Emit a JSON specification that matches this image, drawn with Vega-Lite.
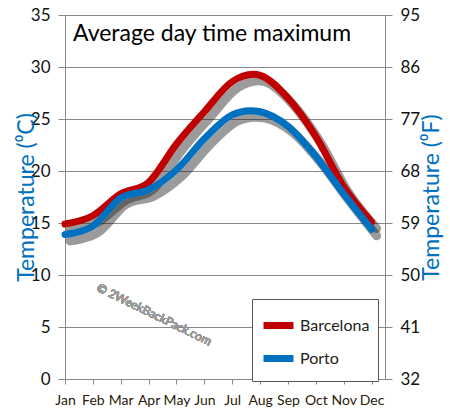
{
  "$schema": "https://vega.github.io/schema/vega-lite/v6.json",
  "width": 320,
  "height": 364,
  "autosize": {"type": "none"},
  "padding": {"left": 65, "top": 15, "right": 65, "bottom": 41},
  "background": "white",
  "config": {
    "font": "Lato",
    "view": {"stroke": null},
    "axis": {"labelFont": "Lato", "titleFont": "Lato"}
  },
  "title": {
    "text": "Average day time maximum",
    "anchor": "start",
    "frame": "group",
    "fontSize": 23,
    "fontWeight": "normal",
    "color": "#000",
    "dx": 8,
    "offset": -58,
    "baseline": "alphabetic"
  },
  "data": {
    "values": [
      {"month": 1, "city": "Barcelona", "temp": 14.9},
      {"month": 2, "city": "Barcelona", "temp": 15.7},
      {"month": 3, "city": "Barcelona", "temp": 17.8},
      {"month": 4, "city": "Barcelona", "temp": 18.9},
      {"month": 5, "city": "Barcelona", "temp": 22.6},
      {"month": 6, "city": "Barcelona", "temp": 25.7},
      {"month": 7, "city": "Barcelona", "temp": 28.6},
      {"month": 8, "city": "Barcelona", "temp": 29.2},
      {"month": 9, "city": "Barcelona", "temp": 27.0},
      {"month": 10, "city": "Barcelona", "temp": 23.3},
      {"month": 11, "city": "Barcelona", "temp": 18.5},
      {"month": 12, "city": "Barcelona", "temp": 15.1},
      {"month": 1, "city": "Porto", "temp": 13.9},
      {"month": 2, "city": "Porto", "temp": 14.7},
      {"month": 3, "city": "Porto", "temp": 17.4},
      {"month": 4, "city": "Porto", "temp": 18.2},
      {"month": 5, "city": "Porto", "temp": 20.1},
      {"month": 6, "city": "Porto", "temp": 23.1},
      {"month": 7, "city": "Porto", "temp": 25.4},
      {"month": 8, "city": "Porto", "temp": 25.7},
      {"month": 9, "city": "Porto", "temp": 24.3},
      {"month": 10, "city": "Porto", "temp": 21.4},
      {"month": 11, "city": "Porto", "temp": 17.8},
      {"month": 12, "city": "Porto", "temp": 14.4}
    ]
  },
  "resolve": {"scale": {"x": "independent", "y": "independent"}, "axis": {"x": "independent", "y": "independent"}},
  "layer": [
    {
      "mark": {"type": "line", "interpolate": "cardinal", "strokeWidth": 9, "color": "#222", "opacity": 0.45, "strokeCap": "round"},
      "encoding": {
        "x": {"field": "month", "type": "quantitative", "scale": {"domain": [0.82, 12.3], "nice": false, "zero": false}, "axis": null},
        "y": {"field": "temp", "type": "quantitative", "scale": {"domain": [0.62, 35.62], "nice": false, "zero": false}, "axis": null},
        "detail": {"field": "city"}
      }
    },
    {
      "mark": {"type": "text", "angle": 26, "fontSize": 12, "color": "#999", "text": "© 2WeekBackPack.com", "font": "Lato"},
      "encoding": {
        "x": {"datum": 4.2, "type": "quantitative", "scale": {"domain": [1, 12.48], "nice": false, "zero": false}, "axis": null},
        "y": {"datum": 6.2, "type": "quantitative", "scale": {"domain": [0, 35], "nice": false, "zero": false}, "axis": null}
      }
    },
    {
      "mark": {"type": "line", "interpolate": "cardinal", "strokeWidth": 7, "strokeCap": "round"},
      "encoding": {
        "x": {
          "field": "month", "type": "quantitative",
          "scale": {"domain": [1, 12.48], "nice": false, "zero": false},
          "axis": {
            "values": [1,2,3,4,5,6,7,8,9,10,11,12],
            "labelExpr": "['Jan','Feb','Mar','Apr','May','Jun','Jul','Aug','Sep','Oct','Nov','Dec'][datum.value-1]",
            "title": null, "grid": false,
            "domainColor": "#888", "tickColor": "#888", "tickSize": 5,
            "labelFontSize": 14, "labelColor": "#2a1a0a", "labelPadding": 9,
            "labelFlush": false, "labelOverlap": false
          }
        },
        "y": {
          "field": "temp", "type": "quantitative",
          "scale": {"domain": [0, 35], "nice": false, "zero": false},
          "axis": {
            "orient": "left", "values": [0,5,10,15,20,25,30,35],
            "title": "Temperature (⁰C)", "titleFontSize": 23, "titleFontWeight": "normal", "titleColor": "#0070c0", "titlePadding": -8,
            "grid": true, "gridColor": "#888", "gridOpacity": 1,
            "domainColor": "#888", "tickColor": "#888", "tickSize": 7,
            "labelFontSize": 17, "labelColor": "#111", "labelPadding": 8
          }
        },
        "color": {
          "field": "city", "type": "nominal",
          "scale": {"domain": ["Barcelona", "Porto"], "range": ["#c00000", "#0070c0"]},
          "legend": {
            "orient": "none", "legendX": 187, "legendY": 284,
            "title": null, "symbolType": "stroke", "symbolStrokeWidth": 7, "symbolSize": 900,
            "labelFontSize": 16, "labelColor": "#222", "labelOffset": 3,
            "strokeColor": "#555", "fillColor": "white", "padding": 8, "rowPadding": 0,
            "symbolOffset": 0
          }
        }
      }
    },
    {
      "mark": {"type": "line", "opacity": 0},
      "encoding": {
        "x": {"field": "month", "type": "quantitative", "scale": {"domain": [1, 12.48], "nice": false, "zero": false}, "axis": null},
        "y": {
          "field": "temp", "type": "quantitative",
          "scale": {"domain": [0, 35], "nice": false, "zero": false},
          "axis": {
            "orient": "right", "values": [0,5,10,15,20,25,30,35],
            "labelExpr": "format(datum.value*9/5+32, 'd')",
            "title": "Temperature (⁰F)", "titleFontSize": 23, "titleFontWeight": "normal", "titleColor": "#0070c0", "titleAngle": 270, "titleBaseline": "top", "titlePadding": 1,
            "grid": false, "domainColor": "#888", "tickColor": "#888", "tickSize": 7,
            "labelFontSize": 17, "labelColor": "#111", "labelPadding": 8
          }
        },
        "detail": {"field": "city"}
      }
    }
  ]
}
